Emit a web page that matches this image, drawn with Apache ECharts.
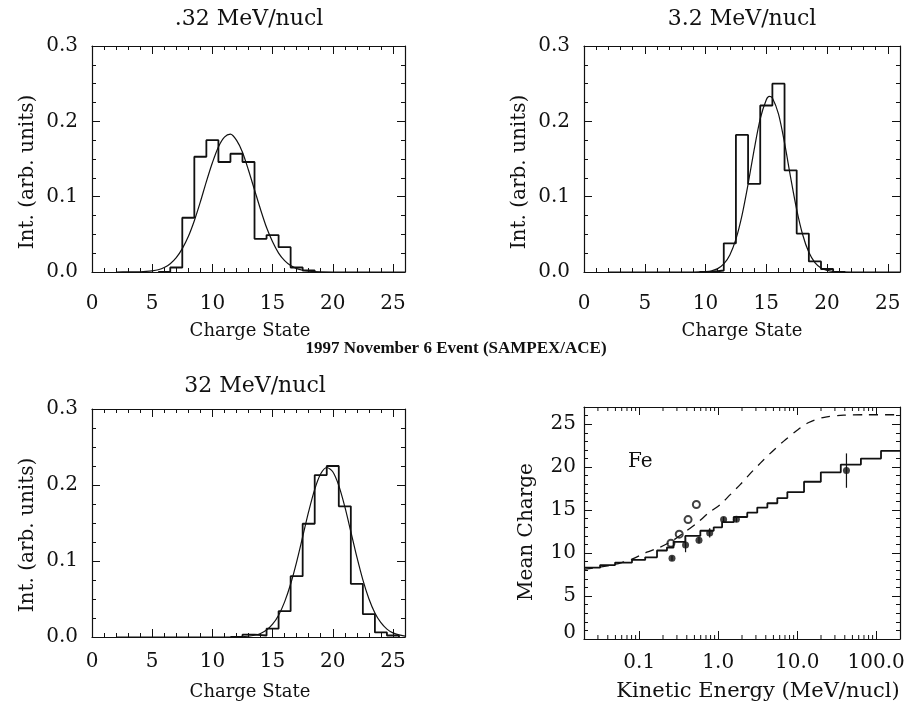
<!DOCTYPE html>
<html>
<head>
<meta charset="utf-8">
<title>1997 November 6 Event (SAMPEX/ACE)</title>
<script src="https://cdn.jsdelivr.net/npm/echarts@6/dist/echarts.min.js"></script>
<style>
html, body { margin: 0; padding: 0; background: #fff; }
#chart { width: 914px; height: 708px; }
</style>
</head>
<body>
<div id="chart"></div>
<script>
// charge state histograms (bin centres) and fitted curves
var q1 = [6, 7, 8, 9, 10, 11, 12, 13, 14, 15, 16, 17, 18];
var h1 = [0, 0.006, 0.072, 0.153, 0.175, 0.146, 0.157, 0.146, 0.044, 0.049, 0.033, 0.006, 0.002];
var g1x = [2, 3, 4, 4.5, 5, 5.5, 6, 6.5, 7, 7.5, 8, 8.5, 9, 9.5, 10, 10.5, 11, 11.5, 12, 12.5, 13, 13.5, 14, 14.5, 15, 15.5, 16, 16.5, 17, 17.5, 18, 19, 20, 26];
var g1y = [0, 0.0001, 0.0003, 0.0007, 0.0015, 0.003, 0.006, 0.011, 0.019, 0.031, 0.047, 0.068, 0.093, 0.120, 0.145, 0.166, 0.179, 0.183, 0.175, 0.159, 0.135, 0.109, 0.083, 0.059, 0.040, 0.025, 0.015, 0.0085, 0.0045, 0.0023, 0.0011, 0.0002, 0, 0];

var q2 = [10, 11, 12, 13, 14, 15, 16, 17, 18, 19, 20, 21];
var h2 = [0, 0.002, 0.038, 0.182, 0.117, 0.221, 0.250, 0.135, 0.051, 0.014, 0.004, 0];
var g2x = [2, 9, 9.5, 10, 10.5, 11, 11.5, 12, 12.5, 13, 13.5, 14, 14.5, 15, 15.25, 15.5, 16, 16.5, 17, 17.5, 18, 18.5, 19, 19.5, 20, 20.5, 21, 22, 26];
var g2y = [0, 0, 0.0002, 0.0006, 0.0017, 0.0045, 0.0107, 0.0227, 0.0436, 0.0753, 0.1166, 0.1624, 0.2032, 0.2286, 0.233, 0.231, 0.2098, 0.1713, 0.1257, 0.0828, 0.0491, 0.0261, 0.0125, 0.0054, 0.0021, 0.0007, 0.0002, 0, 0];

var q3 = [12, 13, 14, 15, 16, 17, 18, 19, 20, 21, 22, 23, 24, 25];
var h3 = [0, 0.003, 0.002, 0.011, 0.034, 0.080, 0.149, 0.213, 0.225, 0.172, 0.070, 0.030, 0.006, 0.002];
var g3x = [2, 12, 13, 13.5, 14, 14.5, 15, 15.5, 16, 16.5, 17, 17.5, 18, 18.5, 19, 19.5, 20, 20.5, 21, 21.5, 22, 22.5, 23, 23.5, 24, 24.5, 25, 25.5, 26];
var g3y = [0, 0, 0.001, 0.0023, 0.0047, 0.0092, 0.0168, 0.0287, 0.0462, 0.0697, 0.0989, 0.1319, 0.1652, 0.1943, 0.2147, 0.223, 0.2174, 0.1992, 0.1715, 0.1386, 0.1053, 0.0752, 0.0504, 0.0317, 0.0188, 0.0104, 0.0054, 0.0027, 0.0012];

// Fe mean charge vs kinetic energy
var stepE = [0.02, 0.032, 0.0495, 0.081, 0.119, 0.168, 0.2245, 0.272, 0.383, 0.594, 0.877, 1.12, 1.57, 2.33, 3.12, 4.19, 5.6, 7.5, 12.2, 19.9, 35.6, 64, 115, 200];
var stepQ = [8.3, 8.6, 8.9, 9.2, 9.5, 10.3, 10.65, 11.3, 12.0, 12.6, 13.0, 13.6, 14.2, 14.7, 15.3, 15.8, 16.4, 17.1, 18.3, 19.4, 20.3, 21.0, 21.9, 21.9];
var dashE = [0.02, 0.04, 0.06, 0.081, 0.125, 0.185, 0.26, 0.36, 0.54, 0.76, 1.06, 1.42, 1.91, 2.57, 3.44, 4.8, 6.7, 9.7, 14, 22, 39, 78, 200];
var dashQ = [8.1, 8.5, 8.9, 9.3, 10.1, 10.7, 11.4, 12.3, 13.5, 14.7, 15.65, 16.8, 18.0, 19.3, 20.5, 21.8, 23.0, 24.2, 25.2, 25.8, 26.05, 26.1, 26.1];
var fullE = [0.26, 0.386, 0.571, 0.78, 1.17, 1.70, 42];
var fullQ = [9.4, 10.95, 11.5, 12.35, 13.9, 13.95, 19.6];
var fullLo = [9.1, 10.1, 11.1, 11.8, 13.6, 13.6, 17.6];
var fullHi = [9.7, 11.8, 11.9, 12.9, 14.2, 14.3, 21.6];
var openE = [0.252, 0.321, 0.415, 0.529];
var openQ = [11.15, 12.2, 13.9, 15.65];

var chargeTicks = [0, 5, 10, 15, 20, 25];
var energyTicks = [0.1, 1, 10, 100];
var energyLabels = ['0.1', '1.0', '10.0', '100.0'];

var serif = '"DejaVu Serif", "Liberation Serif", serif';
var black = '#111';

function pairs(x, y) {
	var out = [];
	for (var i = 0; i < x.length; i++) {
		out.push([x[i], y[i]]);
	}
	return out;
}

// bin edges sit half way between charge states
function histSteps(q, h) {
	var out = [];
	for (var i = 0; i < q.length; i++) {
		out.push([q[i] - 0.5, h[i]]);
	}
	out.push([q[q.length - 1] + 0.5, 0]);
	return out;
}

function frame(extra) {
	var a = {
		axisLine: { show: true, onZero: false, lineStyle: { color: black, width: 1.2 } },
		axisTick: { show: true, inside: true, length: 8, lineStyle: { color: black, width: 1 } },
		minorTick: { show: true, splitNumber: 5, length: 4, lineStyle: { color: black, width: 1 } },
		splitLine: { show: false },
		minorSplitLine: { show: false }
	};
	for (var k in extra) a[k] = extra[k];
	return a;
}

function chargeX(grid, pos, labels, margin) {
	return frame({
		type: 'value', gridIndex: grid, position: pos, min: 0, max: 26, interval: 5,
		axisLabel: {
			show: labels, color: black, fontFamily: serif, fontSize: 20, margin: margin,
			formatter: function (v) { return chargeTicks.indexOf(v) >= 0 ? String(v) : ''; }
		}
	});
}

function intY(grid, pos, labels) {
	var a = frame({
		type: 'value', gridIndex: grid, position: pos, min: 0, max: 0.3, interval: 0.1,
		axisLabel: {
			show: labels, color: black, fontFamily: serif, fontSize: 20, margin: 14,
			formatter: function (v) { return v.toFixed(1); }
		}
	});
	a.minorTick = { show: true, splitNumber: 4, length: 4, lineStyle: { color: black, width: 1 } };
	return a;
}

function energyX(pos, labels) {
	var a = frame({
		type: 'log', logBase: 10, gridIndex: 3, position: pos, min: 0.02, max: 200,
		axisLabel: {
			show: labels, color: black, fontFamily: serif, fontSize: 20, margin: 14,
			showMinLabel: false, showMaxLabel: false,
			formatter: function (v) {
				for (var i = 0; i < energyTicks.length; i++) {
					if (Math.abs(Math.log10(v) - Math.log10(energyTicks[i])) < 1e-6) return energyLabels[i];
				}
				return '';
			}
		}
	});
	a.minorTick = { show: false };
	return a;
}

function meanY(pos, labels) {
	return frame({
		type: 'value', gridIndex: 3, position: pos, min: 0, max: 27, interval: 5,
		axisLabel: {
			show: labels, color: black, fontFamily: serif, fontSize: 20, margin: 8,
			formatter: function (v) { return v === 0 ? '{lo|0}' : String(v); },
			rich: { lo: { fontFamily: serif, fontSize: 20, color: black, padding: [0, 0, 12, 0] } }
		}
	});
}

// log minor tick positions 2..9 in each decade
var minorE = [];
[0.01, 0.1, 1, 10, 100].forEach(function (d) {
	for (var k = 2; k <= 9; k++) {
		var v = +(d * k).toPrecision(3);
		if (v > 0.02 && v < 200) minorE.push([v, 0]);
	}
});

var xAxes = [], yAxes = [];
for (var i = 0; i < 3; i++) {
	xAxes.push(chargeX(i, 'bottom', true, i < 2 ? 22 : 15), chargeX(i, 'top', false, 0));
	yAxes.push(intY(i, 'left', true), intY(i, 'right', false));
}
xAxes.push(energyX('bottom', true), energyX('top', false));
yAxes.push(meanY('left', true), meanY('right', false));

function histSeries(p, q, h) {
	return {
		type: 'line', xAxisIndex: 2 * p, yAxisIndex: 2 * p, step: 'end', showSymbol: false,
		data: histSteps(q, h), lineStyle: { color: black, width: 1.8 }, silent: true
	};
}
function fitSeries(p, x, y) {
	return {
		type: 'line', xAxisIndex: 2 * p, yAxisIndex: 2 * p, smooth: 0.3, showSymbol: false,
		data: pairs(x, y), lineStyle: { color: black, width: 1.2 }, silent: true
	};
}

function txt(x, y, s, font, extra) {
	var t = {
		type: 'text', x: x, y: y, silent: true,
		style: { text: s, fill: black, font: font, align: 'center', verticalAlign: 'middle' }
	};
	for (var k in extra) t[k] = extra[k];
	return t;
}

var option = {
	backgroundColor: '#fff',
	animation: false,
	grid: [
		{ left: 92, top: 46, width: 313, height: 226 },
		{ left: 584, top: 46, width: 316, height: 226 },
		{ left: 92, top: 409, width: 313, height: 228 },
		{ left: 584, top: 407, width: 316, height: 232 }
	],
	xAxis: xAxes,
	yAxis: yAxes,
	series: [
		histSeries(0, q1, h1), fitSeries(0, g1x, g1y),
		histSeries(1, q2, h2), fitSeries(1, g2x, g2y),
		histSeries(2, q3, h3), fitSeries(2, g3x, g3y),
		{
			type: 'line', xAxisIndex: 6, yAxisIndex: 6, step: 'end', showSymbol: false, silent: true,
			data: pairs(stepE, stepQ), lineStyle: { color: black, width: 1.8 }
		},
		{
			type: 'line', xAxisIndex: 6, yAxisIndex: 6, smooth: 0.3, showSymbol: false, silent: true,
			data: pairs(dashE, dashQ), lineStyle: { color: black, width: 1.3, type: [9, 7] }
		},
		{
			type: 'custom', xAxisIndex: 6, yAxisIndex: 6, silent: true,
			data: fullE.map(function (e, i) { return [e, fullLo[i], fullHi[i]]; }),
			encode: { x: 0, y: [1, 2] },
			renderItem: function (params, api) {
				var a = api.coord([api.value(0), api.value(1)]);
				var b = api.coord([api.value(0), api.value(2)]);
				return { type: 'line', shape: { x1: a[0], y1: a[1], x2: b[0], y2: b[1] }, style: { stroke: black, lineWidth: 1.2 } };
			}
		},
		{
			type: 'scatter', xAxisIndex: 6, yAxisIndex: 6, symbol: 'circle', symbolSize: 7, silent: true,
			data: pairs(fullE, fullQ), itemStyle: { color: black }
		},
		{
			type: 'scatter', xAxisIndex: 6, yAxisIndex: 6, symbol: 'emptyCircle', symbolSize: 7, silent: true,
			data: pairs(openE, openQ), itemStyle: { color: black, borderWidth: 1 }
		},
		{
			// minor ticks of the log axis, bottom and top
			type: 'custom', xAxisIndex: 6, yAxisIndex: 6, silent: true, clip: false,
			data: minorE, encode: { x: 0, y: 1 },
			renderItem: function (params, api) {
				var b = api.coord([api.value(0), 0]);
				var t = api.coord([api.value(0), 27]);
				return {
					type: 'group', children: [
						{ type: 'line', shape: { x1: b[0], y1: b[1], x2: b[0], y2: b[1] - 4 }, style: { stroke: black, lineWidth: 1 } },
						{ type: 'line', shape: { x1: t[0], y1: t[1], x2: t[0], y2: t[1] + 4 }, style: { stroke: black, lineWidth: 1 } }
					]
				};
			}
		}
	],
	graphic: [
		txt(249, 19, '.32 MeV/nucl', '22px ' + serif),
		txt(742, 19, '3.2 MeV/nucl', '22px ' + serif),
		txt(255, 386, '32 MeV/nucl', '22px ' + serif),
		txt(456, 349, '1997 November 6 Event (SAMPEX/ACE)', 'bold 17px "Liberation Serif", serif'),
		txt(250, 331, 'Charge State', '18px ' + serif),
		txt(742, 331, 'Charge State', '18px ' + serif),
		txt(250, 692, 'Charge State', '18px ' + serif),
		txt(758, 692, 'Kinetic Energy (MeV/nucl)', '21px ' + serif),
		txt(28, 172, 'Int. (arb. units)', '20px ' + serif, { rotation: Math.PI / 2 }),
		txt(520, 172, 'Int. (arb. units)', '20px ' + serif, { rotation: Math.PI / 2 }),
		txt(28, 535, 'Int. (arb. units)', '20px ' + serif, { rotation: Math.PI / 2 }),
		txt(527, 532, 'Mean Charge', '20px ' + serif, { rotation: Math.PI / 2 }),
		txt(628, 462, 'Fe', '20px ' + serif)
	]
};
option.graphic[12].style.align = 'left';

var chart = echarts.init(document.getElementById('chart'));
chart.setOption(option);
</script>
</body>
</html>
